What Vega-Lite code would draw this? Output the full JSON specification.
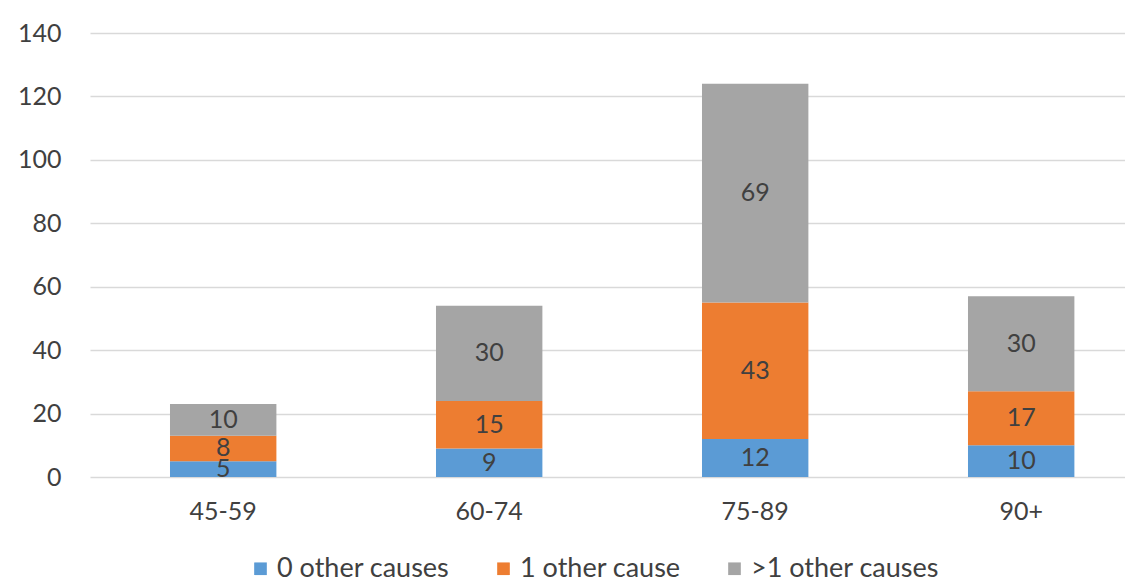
{
  "$schema": "https://vega.github.io/schema/vega-lite/v6.json",
  "width": 1035,
  "height": 444,
  "autosize": {"type": "none"},
  "padding": {"left": 90, "top": 33, "right": 0, "bottom": 107},
  "background": "white",
  "data": {
    "values": [
      {"age": "45-59", "cause": "0 other causes", "ord": 1, "n": 5},
      {"age": "45-59", "cause": "1 other cause", "ord": 2, "n": 8},
      {"age": "45-59", "cause": ">1 other causes", "ord": 3, "n": 10},
      {"age": "60-74", "cause": "0 other causes", "ord": 1, "n": 9},
      {"age": "60-74", "cause": "1 other cause", "ord": 2, "n": 15},
      {"age": "60-74", "cause": ">1 other causes", "ord": 3, "n": 30},
      {"age": "75-89", "cause": "0 other causes", "ord": 1, "n": 12},
      {"age": "75-89", "cause": "1 other cause", "ord": 2, "n": 43},
      {"age": "75-89", "cause": ">1 other causes", "ord": 3, "n": 69},
      {"age": "90+", "cause": "0 other causes", "ord": 1, "n": 10},
      {"age": "90+", "cause": "1 other cause", "ord": 2, "n": 17},
      {"age": "90+", "cause": ">1 other causes", "ord": 3, "n": 30}
    ]
  },
  "config": {
    "font": "Lato",
    "view": {"stroke": null},
    "axis": {"labelFont": "Lato", "labelColor": "#404040", "labelFontSize": 25, "titleFontSize": 0}
  },
  "encoding": {
    "x": {
      "field": "age", "type": "nominal", "title": null,
      "scale": {"paddingInner": 0.6, "paddingOuter": 0.2455, "align": 0.6125},
      "axis": {"labelAngle": 0, "domain": false, "ticks": false, "labelPadding": 22, "grid": false}
    },
    "y": {
      "field": "n", "type": "quantitative", "stack": "zero", "title": null,
      "scale": {"domain": [0, 140], "nice": false},
      "axis": {"values": [0, 20, 40, 60, 80, 100, 120, 140], "domain": false, "ticks": false, "labelPadding": 29, "gridColor": "#D9D9D9", "gridWidth": 1.5}
    },
    "order": {"field": "ord", "type": "quantitative"}
  },
  "layer": [
    {
      "mark": {"type": "bar"},
      "encoding": {
        "color": {
          "field": "cause", "type": "nominal",
          "scale": {"domain": ["0 other causes", "1 other cause", ">1 other causes"], "range": ["#5B9BD5", "#ED7D31", "#A5A5A5"]},
          "legend": {
            "title": null, "orient": "none", "direction": "horizontal",
            "legendX": 157, "legendY": 522,
            "symbolType": "square", "symbolSize": 160, "symbolStrokeWidth": 0,
            "labelFontSize": 27, "labelFont": "Lato", "labelColor": "#404040", "labelLimit": 400,
            "columnPadding": 40, "labelOffset": 3
          }
        }
      }
    },
    {
      "mark": {"type": "text", "fontSize": 25, "font": "Lato", "color": "#404040"},
      "encoding": {
        "y": {"field": "n", "type": "quantitative", "stack": "zero", "bandPosition": 0.5},
        "text": {"field": "n", "type": "quantitative"}
      }
    }
  ]
}
